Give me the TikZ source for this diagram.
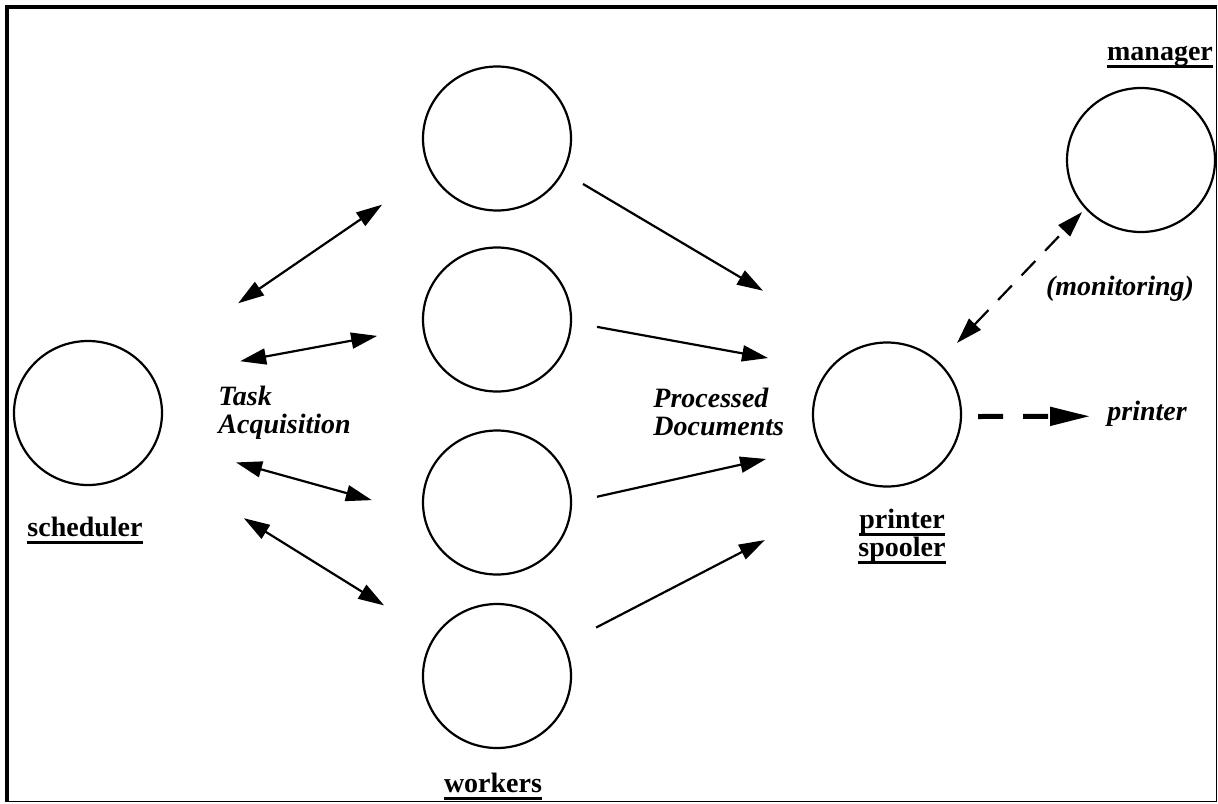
\documentclass[tikz,border=0pt]{standalone}
\usepackage{fontspec}
\setmainfont{Liberation Serif}
\usetikzlibrary{arrows.meta,calc,shapes.geometric}

% bold underlined process names
\newcommand{\ulword}[1]{\setbox0=\hbox{#1}\leavevmode\rlap{\rule[-4pt]{\wd0}{1.5pt}}\box0}

\begin{document}
\begin{tikzpicture}[x=0.5pt,y=-0.5pt,
  proc/.style={ellipse, draw, line width=1.1pt, minimum width=74pt, minimum height=72pt, inner sep=0pt},
  pname/.style={font=\fontsize{14}{14}\selectfont\bfseries, align=center, inner sep=0pt, anchor=base},
  note/.style={font=\fontsize{14}{14}\selectfont\bfseries\itshape, inner sep=0pt},
  link/.style={line width=1.1pt, -{Triangle[length=13pt,width=8pt]}},
  duplex/.style={line width=1.1pt, {Triangle[length=13pt,width=8pt]}-{Triangle[length=13pt,width=8pt]}},
  watch/.style={duplex, dash pattern=on 10pt off 7pt},
  output/.style={line width=2.5pt, dash pattern=on 12.5pt off 10pt, -{Triangle[length=20pt,width=9pt]}},
]
\useasboundingbox (0,0) rectangle (1218,803);

% frame: heavy top/left edges, light bottom/right edges
\draw[line width=2pt] (7,802) -- (7,7) -- (1216,7);
\draw[line width=0.75pt] (1216.5,5) -- (1216.5,801.5) -- (5,801.5);

% processes
\node[proc] (s)  at (88,413)    {};
\node[proc] (w1) at (497,138.5) {};
\node[proc] (w2) at (497,319.5) {};
\node[proc] (w3) at (497,502.5) {};
\node[proc] (w4) at (497,676)   {};
\node[proc] (p)  at (887,414.5) {};
\node[proc] (m)  at (1141,160)  {};

% names (base anchor = baseline of the last line)
\node[pname] (sname) at (85,536)   {\ulword{scheduler}};
\node[pname] (wname) at (493,792)  {\ulword{workers}};
\node[pname] (mname) at (1160,60)  {\ulword{manager}};
\node[pname] (pname) at (902,556)  {\ulword{printer}\\\ulword{spooler}};

% annotations
\node[note, align=left, anchor=base west] (task) at (218,433) {Task\\Acquisition};
\node[note, align=left, anchor=base west] (docs) at (653,435) {Processed\\Documents};
\node[note, anchor=base] (mon) at (1120,295) {(monitoring)};
\node[note, anchor=base west] (prn) at (1107,420) {printer};

% task acquisition
\draw[duplex] ($(s)!0.367!(w1)+(0,-9)$)  -- ($(s)!0.719!(w1)+(0,-11)$);
\draw[duplex] ($(s)!0.372!(w2)+(0,-17)$) -- ($(s)!0.707!(w2)+(0,-11)$);
\draw[duplex] ($(s)!0.362!(w3)+(0,17)$)  -- ($(s)!0.694!(w3)+(0,25)$);
\draw[duplex] ($(s)!0.381!(w4)+(0,5)$)   -- ($(s)!0.724!(w4)+(0,2)$);

% processed documents
\draw[link] ($(w1)!0.2205!(p)+(0,-15.4)$) -- ($(w1)!0.682!(p)+(0,-36)$);
\draw[link] ($(w2)!0.2564!(p)+(0,-17)$)   -- ($(w2)!0.695!(p)+(0,-27.5)$);
\draw[link] ($(w3)!0.2564!(p)+(0,16.8)$)  -- ($(w3)!0.690!(p)+(0,17.2)$);
\draw[link] ($(w4)!0.254!(p)+(0,18)$)     -- ($(w4)!0.687!(p)+(0,43.7)$);

% monitoring and output
\draw[watch] ($(p)!0.2756!(m)+(0,-1.4)$) -- ($(p)!0.768!(m)+(0,-7)$);
\draw[output] ($(p.east)+(16,2)$) -- ($(prn.west)+(-17,3)$);
\end{tikzpicture}
\end{document}
